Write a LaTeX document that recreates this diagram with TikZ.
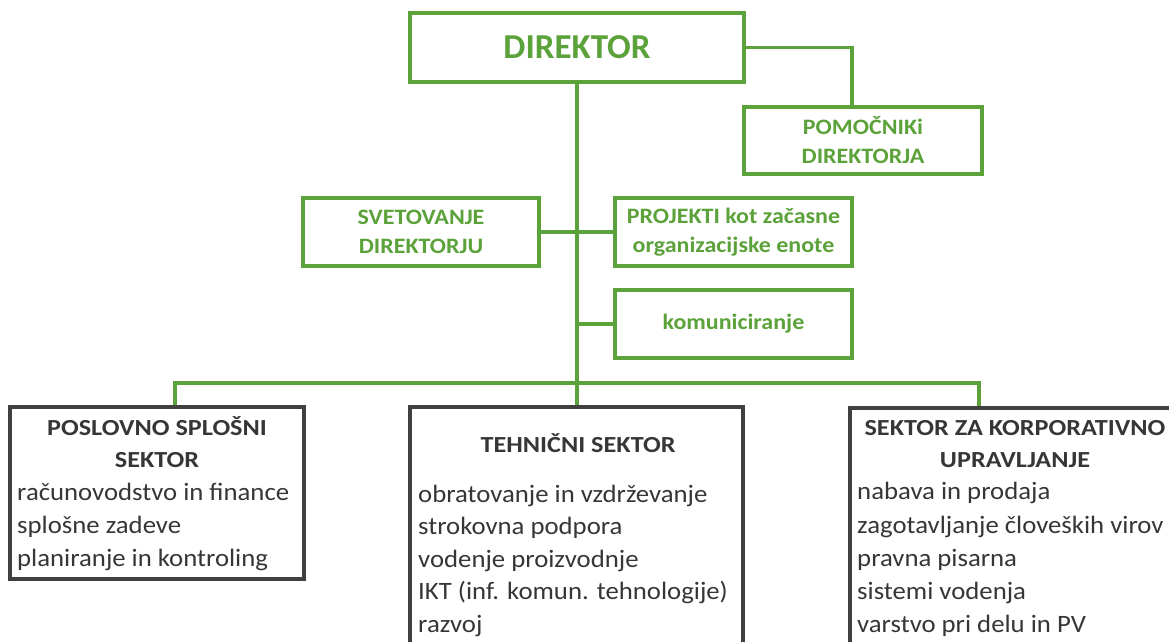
\documentclass[tikz,border=0pt]{standalone}
\usepackage{fontspec}
\setmainfont{Carlito}
\newfontfamily\greenfont[FakeStretch=1.09]{Carlito}
\newfontfamily\headfont[FakeStretch=1.14]{Carlito}
\newfontfamily\itemfont[FakeStretch=1.07]{Carlito}
\definecolor{orggreen}{HTML}{5CA23A}
\definecolor{orggray}{HTML}{404040}
\definecolor{orgtext}{HTML}{363636}

\begin{document}
\begin{tikzpicture}[x=1pt,y=-1pt,
  link/.style={draw=orggreen,line width=3.3pt},
  gbox/.style={draw=orggreen,line width=3.3pt,fill=white,inner sep=0pt,
    align=center,text=orggreen,
    font=\greenfont\bfseries\fontsize{22}{29}\selectfont},
  sbox/.style={draw=orggray,line width=3.8pt,inner sep=0pt},
  head/.style={anchor=base,inner sep=0pt,text=orgtext,
    font=\headfont\bfseries\fontsize{23}{28}\selectfont},
  item/.style={anchor=base west,inner sep=0pt,text=orgtext,
    font=\itemfont\fontsize{25}{30}\selectfont},
]
\useasboundingbox (0,0) rectangle (1169,641);
\clip (0,0) rectangle (1169,641);

% management level
\node[gbox,minimum width=334pt,minimum height=69pt,
  font=\setmainfont{Carlito}\bfseries\fontsize{35}{40}\selectfont]
  (dir) at (577,47.5) {DIREKTOR};
\node[gbox,minimum width=238pt,minimum height=67pt]
  (pom) at (863,140.5) {POMOČNIKi\\DIREKTORJA};
\node[gbox,minimum width=236pt,minimum height=68pt]
  (sve) at (421,232) {SVETOVANJE\\DIREKTORJU};
\node[gbox,minimum width=237pt,minimum height=68pt]
  (proj) at (733.5,232) {PROJEKTI kot začasne\\organizacijske enote};
\node[gbox,minimum width=237pt,minimum height=68pt]
  (kom) at (733.5,324) {komuniciranje};

% sector boxes
\node[sbox,minimum width=294pt,minimum height=172pt] (left) at (157,493) {};
\node[sbox,minimum width=333pt,minimum height=253pt] (mid) at (576.5,533.5) {};
\node[sbox,minimum width=330pt,minimum height=252pt] (right) at (1015,534) {};

% connectors
\coordinate (busL) at (175,383);
\coordinate (busR) at (979,383);
\draw[link] (dir.south) -- (dir.south |- mid.north);
\draw[link] (dir.east) -| ([xshift=-11pt]pom.north);
\draw[link] (sve.east) -- (proj.west);
\draw[link] (kom.west) -- (kom.west -| dir.south);
\draw[link] (busL |- left.north) -- (busL) -- (busR) -- (busR |- right.north);

% business sector
\node[head] (lh1) at (157,435) {POSLOVNO SPLOŠNI};
\node[head] (lh2) at (157,467) {SEKTOR};
\foreach \t [count=\i] in {{računovodstvo in finance},{splošne zadeve},
    {planiranje in kontroling}}
  \node[item] (l\i) at (17,{466.7+33.3*\i}) {\t};

% technical sector
\node[head] (mh1) at (578,452) {TEHNIČNI SEKTOR};
\foreach \t [count=\i] in {{obratovanje in vzdrževanje},{strokovna podpora},
    {vodenje proizvodnje},{IKT (inf. komun. tehnologije)},{razvoj}}
  \node[item] (m\i) at (418,{469.5+32.6*\i}) {\t};

% corporate governance sector
\node[head] (rh1) at (1015,435) {SEKTOR ZA KORPORATIVNO};
\node[head] (rh2) at (1015,467) {UPRAVLJANJE};
\foreach \t [count=\i] in {{nabava in prodaja},{zagotavljanje človeških virov},
    {pravna pisarna},{sistemi vodenja},{varstvo pri delu in PV}}
  \node[item] (r\i) at (857,{466.7+33.2*\i}) {\t};
\end{tikzpicture}
\end{document}
